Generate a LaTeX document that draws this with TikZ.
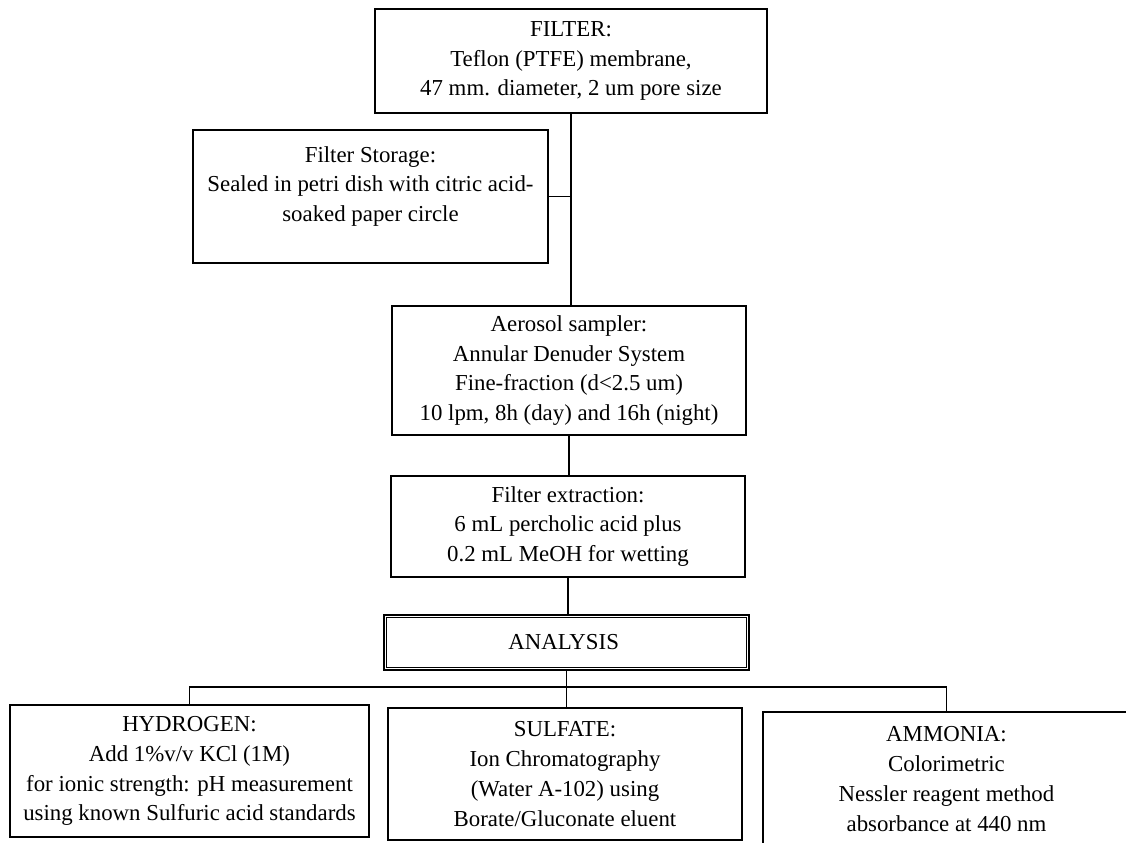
\documentclass[tikz,border=0pt]{standalone}
\usepackage{fontspec}
\setmainfont{Liberation Serif}
\usepackage{tikz}

\begin{document}
\begin{tikzpicture}[
      x=0.02cm, y=-0.02cm,
      every node/.style = {font=\fontsize{13}{17}\selectfont},
      box/.style  = {draw, line width=0.9pt, align=center, inner sep=0pt},
      link/.style = {line width=0.6pt},
    ]
    \useasboundingbox (0,0) rectangle (1126,842);
    \clip (0,0) rectangle (1126,842);
    %% ── Cajas ──────────────────────────────────────────────────
    \node (filter) [box, minimum width=7.84cm, minimum height=2.08cm] at (571,61) {
      FILTER:\\
      Teflon (PTFE) membrane,\\
      47 mm. diameter, 2 um pore size
    };
    \node (storage) [box, minimum width=7.1cm, minimum height=2.66cm] at (370.5,196.5) {
      Filter Storage:\\
      Sealed in petri dish with citric acid-\\
      soaked paper circle\\[-0.1cm]
    };
    \node (aerosol) [box, minimum width=7.08cm, minimum height=2.58cm] at (569,370.5) {
      Aerosol sampler:\\
      Annular Denuder System\\
      Fine-fraction (d<2.5 um)\\
      10 lpm, 8h (day) and 16h (night)
    };
    \node (extraction) [box, minimum width=7.08cm, minimum height=2.02cm] at (568,526.5) {
      Filter extraction:\\
      6 mL percholic acid plus\\
      0.2 mL MeOH for wetting
    };
    \node (analysis) [box, line width=1.4pt, minimum width=7.3cm, minimum height=1.1cm] at (566.5,642.5) {
      ANALYSIS
    };
    \draw[line width=0.5pt] ([shift={(4,-4)}]analysis.south west)
      rectangle ([shift={(-4,4)}]analysis.north east);
    \node (hydrogen) [box, minimum width=7.18cm, minimum height=2.64cm] at (189.5,771) {
      HYDROGEN:\\
      Add 1\%v/v KCl (1M)\\
      for ionic strength: pH measurement\\
      using known Sulfuric acid standards
    };
    \node (sulfate) [box, minimum width=7.08cm, minimum height=2.64cm] at (565,774) {
      SULFATE:\\
      Ion Chromatography\\
      (Water A-102) using\\
      Borate/Gluconate eluent
    };
    \node (ammonia) [box, minimum width=7.34cm, minimum height=2.68cm] at (946.5,779) {
      AMMONIA:\\
      Colorimetric\\
      Nessler reagent method\\
      absorbance at 440 nm
    };
    %% ── Líneas ─────────────────────────────────────────────────
    \coordinate (bus) at (566,687);
    \draw[link] (filter.south) -- (filter.south |- aerosol.north);
    \draw[link] (storage.east) -- (storage.east -| filter.south);
    \draw[link] (aerosol.south) -- (aerosol.south |- extraction.north);
    \draw[link] (extraction.south) -- (extraction.south |- analysis.north);
    \draw[link] (analysis.south) -- (analysis.south |- sulfate.north);
    \draw[link] (hydrogen.north) |- (bus) -| (ammonia.north);
  \end{tikzpicture}
\end{document}
